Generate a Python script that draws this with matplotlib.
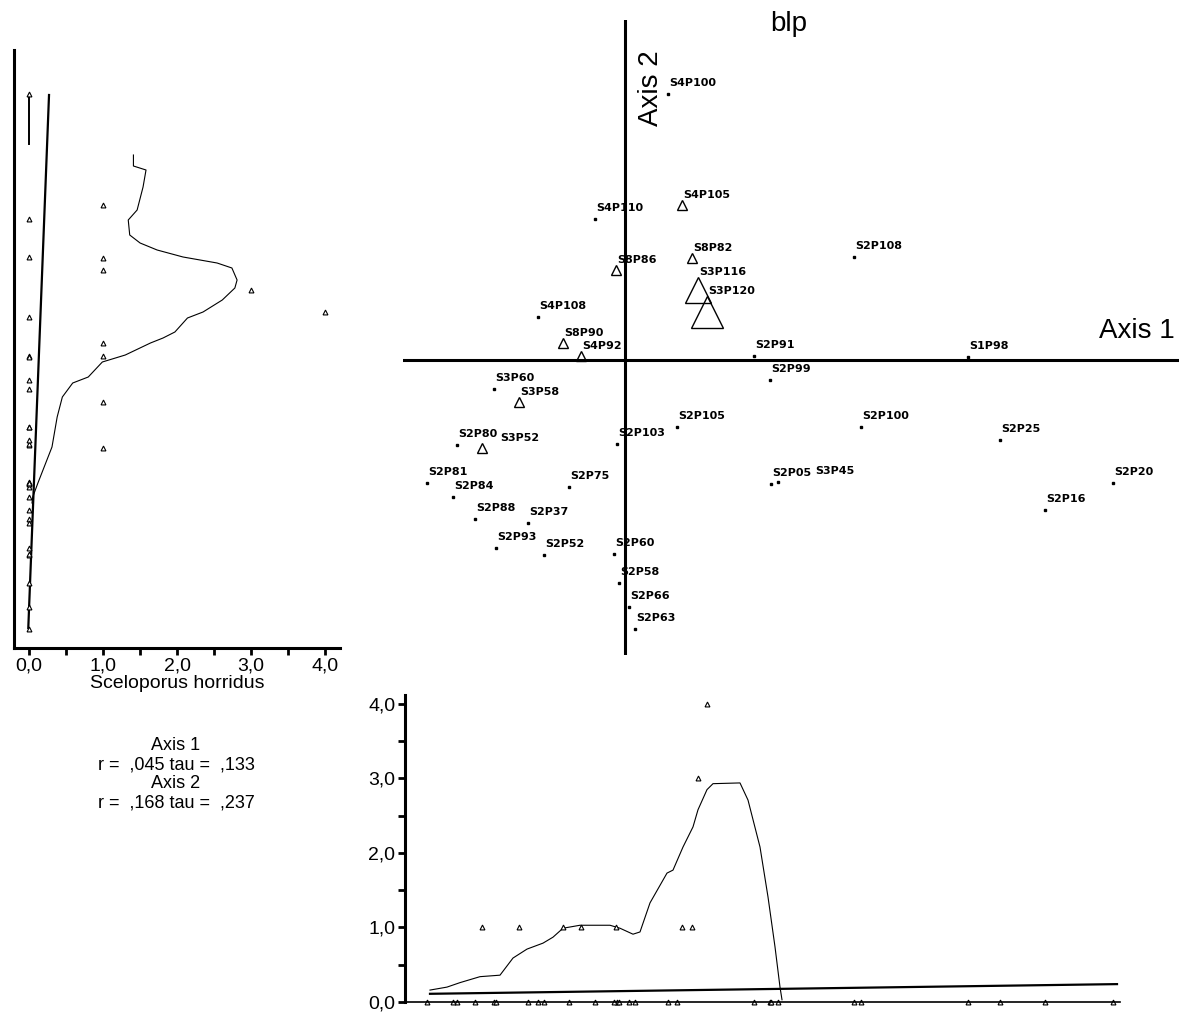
import numpy as np
import matplotlib.pyplot as plt

plt.rcParams['font.family'] = ['Liberation Sans', 'DejaVu Sans']

# sample units: ordination scores and abundance of Sceloporus horridus
labels = ["S4P100", "S4P105", "S4P110", "S8P82", "S2P108", "S8P86", "S3P116",
          "S3P120", "S4P108", "S8P90", "S4P92", "S2P91", "S1P98", "S2P99",
          "S3P60", "S3P58", "S2P80", "S3P52", "S2P103", "S2P105", "S2P100",
          "S2P25", "S2P81", "S2P84", "S2P75", "S2P05", "S3P45", "S2P20",
          "S2P16", "S2P88", "S2P37", "S2P93", "S2P52", "S2P60", "S2P58",
          "S2P66", "S2P63"]
axis1 = [0.43, 0.57, -0.30, 0.67, 2.29, -0.09, 0.73, 0.82, -0.87, -0.62,
         -0.44, 1.29, 3.43, 1.45, -1.31, -1.06, -1.68, -1.43, -0.08, 0.52,
         2.36, 3.75, -1.98, -1.72, -0.56, 1.46, 1.53, 4.88, 4.20, -1.50,
         -0.97, -1.29, -0.81, -0.11, -0.06, 0.04, 0.10]
axis2 = [2.66, 1.55, 1.41, 1.02, 1.03, 0.90, 0.70, 0.48, 0.43, 0.17,
         0.04, 0.04, 0.03, -0.20, -0.29, -0.42, -0.85, -0.88, -0.84, -0.67,
         -0.67, -0.80, -1.23, -1.37, -1.27, -1.24, -1.22, -1.23, -1.50, -1.59,
         -1.63, -1.88, -1.95, -1.94, -2.23, -2.47, -2.69]
abund = [0, 1, 0, 1, 0, 1, 3, 4, 0, 1, 1, 0, 0, 0, 0, 1, 0, 1, 0, 0,
         0, 0, 0, 0, 0, 0, 0, 0, 0, 0, 0, 0, 0, 0, 0, 0, 0]

# smoothed abundance against axis 2 (left panel)
smooth2_ab = [1.41, 1.41, 1.58, 1.54, 1.46, 1.34, 1.36, 1.50, 1.73, 2.08,
              2.54, 2.74, 2.81, 2.78, 2.61, 2.35, 2.14, 1.97, 1.81, 1.64,
              1.30, 0.99, 0.80, 0.59, 0.45, 0.38, 0.31, 0.12, 0.05, 0.04]
smooth2_ax = [2.05, 1.94, 1.90, 1.73, 1.50, 1.40, 1.25, 1.17, 1.10, 1.03,
              0.97, 0.92, 0.80, 0.72, 0.60, 0.48, 0.42, 0.28, 0.22, 0.17,
              0.05, -0.02, -0.17, -0.23, -0.37, -0.57, -0.87, -1.23, -1.37, -1.43]
top_seg_ab = [0.0, 0.0]
top_seg_ax = [2.65, 2.16]
fit2_ab = [0.27, -0.01]
fit2_ax = [2.65, -2.68]

# smoothed abundance against axis 1 (bottom panel)
smooth1_ax = [-1.95, -1.78, -1.65, -1.45, -1.35, -1.25, -1.12, -0.98, -0.82,
              -0.72, -0.62, -0.45, -0.15, -0.05, 0.08, 0.15, 0.25, 0.42, 0.48,
              0.58, 0.68, 0.73, 0.82, 0.88, 1.15, 1.23, 1.35, 1.43, 1.50,
              1.55, 1.57]
smooth1_ab = [0.16, 0.20, 0.26, 0.34, 0.35, 0.36, 0.59, 0.71, 0.79, 0.87,
              0.99, 1.03, 1.03, 0.99, 0.91, 0.94, 1.33, 1.73, 1.77, 2.08,
              2.35, 2.58, 2.85, 2.93, 2.94, 2.71, 2.08, 1.41, 0.74, 0.20, 0.03]
fit1_ax = [-1.95, 4.92]
fit1_ab = [0.11, 0.24]

ab_ticks = [0, 1, 2, 3, 4]
ab_ticklabels = ["0,0", "1,0", "2,0", "3,0", "4,0"]
stats_lines = ["Axis 1", "r =  ,045 tau =  ,133", "Axis 2", "r =  ,168 tau =  ,237"]

# small sideways shifts (pixels) so crowded labels don't sit on each other
label_nudge = {"S3P52": 17, "S3P45": 36}

W, H = 1179, 1014
fig = plt.figure(figsize=(W / 100, H / 100), dpi=100)


def box(x0, y0, x1, y1):
    # pixel box (top-left origin) -> figure fraction rect
    return [x0 / W, 1 - y1 / H, (x1 - x0) / W, (y1 - y0) / H]


# ---- main ordination plot
ax = fig.add_axes(box(403, 20, 1179, 655))
ax.set_xlim(-2.22, 5.54)
ax.set_ylim(-2.95, 3.40)
ax.axis('off')
ax.axhline(0, color='k', lw=2.2)
ax.axvline(0, color='k', lw=2.2)

for lab, x, y, a in zip(labels, axis1, axis2, abund):
    if a > 0:
        ms = 5.4 * a + 1.8
        ax.plot(x, y, '^', ms=ms, mfc='none', mec='k', mew=1.0)
        dy = ms * 1.389 / 2 + 2
    else:
        ax.plot(x, y, 's', ms=1.5, color='k')
        dy = 8
    ax.annotate(lab, (x, y), xytext=(1 + label_nudge.get(lab, 0), dy),
                textcoords='offset pixels', fontsize=8, fontweight='bold',
                family='DejaVu Sans', ha='left', va='baseline')

ax.text(0.995, 0.51, "Axis 1", transform=ax.transAxes, fontsize=20,
        ha='right', va='center')
ax.text(0.32, 0.893, "Axis 2", transform=ax.transAxes, fontsize=20,
        rotation=90, ha='center', va='center')
fig.text(789 / W, 1 - 24 / H, "blp", fontsize=20, ha='center', va='center')

# ---- left panel: abundance vs axis 2
axl = fig.add_axes(box(14, 50, 340, 648))
axl.set_xlim(-0.203, 4.2)
axl.set_ylim(-2.88, 3.10)
for s in ['top', 'right']:
    axl.spines[s].set_visible(False)
for s in ['left', 'bottom']:
    axl.spines[s].set_linewidth(2.2)
axl.set_yticks([])
axl.set_xticks(ab_ticks)
axl.set_xticklabels(ab_ticklabels, fontsize=14)
axl.set_xticks(np.arange(0.5, 4, 1), minor=True)
axl.tick_params(axis='x', which='both', direction='out', length=5, width=2, pad=2)
axl.set_xlabel("Sceloporus horridus", fontsize=14, labelpad=0)
axl.plot(fit2_ab, fit2_ax, color='k', lw=1.6)
axl.plot(top_seg_ab, top_seg_ax, color='k', lw=1.4)
axl.plot(smooth2_ab, smooth2_ax, color='k', lw=0.8)
axl.plot(abund, axis2, '^', ms=3.5, mfc='white', mec='k', mew=0.8, clip_on=False)

for i, line in enumerate(stats_lines):
    fig.text(176 / W, 1 - (745 + i * 19.5) / H, line, fontsize=13,
             ha='center', va='center')

# ---- bottom panel: abundance vs axis 1
axb = fig.add_axes(box(405, 695, 1120, 1002))
axb.set_xlim(-2.20, 4.95)
axb.set_ylim(0, 4.12)
for s in ['top', 'right']:
    axb.spines[s].set_visible(False)
axb.spines['left'].set_linewidth(2.2)
axb.spines['bottom'].set_linewidth(1.2)
axb.set_xticks([])
axb.set_yticks(ab_ticks)
axb.set_yticklabels(ab_ticklabels, fontsize=14)
axb.set_yticks(np.arange(0.5, 4, 1), minor=True)
axb.tick_params(axis='y', which='both', direction='out', length=5, width=2, pad=2)
axb.plot(fit1_ax, fit1_ab, color='k', lw=1.6)
axb.plot(smooth1_ax, smooth1_ab, color='k', lw=0.8)
axb.plot(axis1, abund, '^', ms=3.5, mfc='white', mec='k', mew=0.8, clip_on=False)

fig.savefig("out.png", dpi=100)
